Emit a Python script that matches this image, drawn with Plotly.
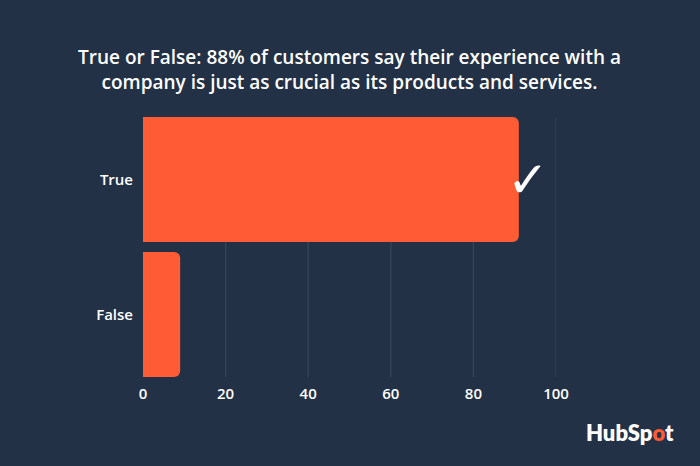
import plotly.graph_objects as go

categories = ["True", "False"]
values = [91, 9]
x_ticks = [0, 20, 40, 60, 80, 100]
title_text = ("True or False: 88% of customers say their experience with a<br>"
              "company is just as crucial as its products and services.")

BG = "#223145"
ORANGE = "#ff5c35"
GRID = "#35455b"

W, H = 700, 466
L, R, T, B = 143, 144, 117, 89

bar_w = 0.926  # bar thickness in category units
bargap = 1 - bar_w

fig = go.Figure()
fig.add_trace(go.Bar(
    x=values, y=categories, orientation="h",
    marker=dict(color=ORANGE, line=dict(width=0), cornerradius=6),
    hoverinfo="skip",
))

# grid lines limited to the bar band
for v in x_ticks[1:]:
    fig.add_shape(type="line", xref="x", yref="paper", x0=v, x1=v, y0=0, y1=1,
                  line=dict(color=GRID, width=1.3), layer="below")

# checkmark next to the winning bar
fig.add_annotation(x=values[0], y=categories[0], xref="x", yref="y",
                   text="✓", showarrow=False, xanchor="left", yanchor="middle",
                   xshift=-14, yshift=0,
                   font=dict(family="DejaVu Sans", size=50, color="white"))

# HubSpot wordmark
fig.add_annotation(xref="paper", yref="paper", x=(676 - L) / (W - L - R),
                   y=(H - B - 432) / (H - T - B),
                   xanchor="right", yanchor="middle", showarrow=False,
                   text="HubSp<span style='color:%s'>o</span>t" % ORANGE,
                   font=dict(family="Lato", size=22, color="white", weight=800))

fig.update_layout(
    width=W, height=H,
    margin=dict(l=L, r=R, t=T, b=B),
    paper_bgcolor=BG, plot_bgcolor=BG,
    bargap=bargap,
    showlegend=False,
    title=dict(text=title_text, x=0.5, xref="paper", xanchor="center",
               y=1 - 64 / H, yref="container", yanchor="middle",
               font=dict(family="Open Sans", size=19, color="white", weight=600)),
    xaxis=dict(range=[0, 100], tickvals=x_ticks, showgrid=False, zeroline=False,
               showline=False, ticks="", ticklabelstandoff=6,
               tickfont=dict(family="Open Sans", size=15, color="white", weight=600)),
    yaxis=dict(range=[1 + bar_w / 2, -bar_w / 2], showgrid=False, zeroline=False,
               showline=False, ticks="", ticklabelstandoff=9,
               tickfont=dict(family="Open Sans", size=15, color="white", weight=600)),
)

fig.write_html("out.html")
